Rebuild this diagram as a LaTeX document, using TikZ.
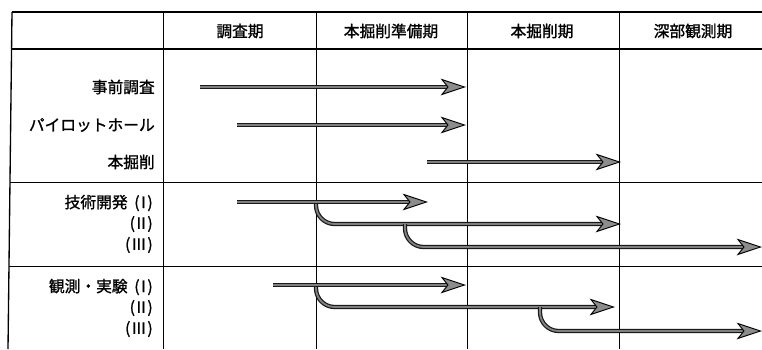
\documentclass[tikz,border=0pt]{standalone}
\usepackage{fontspec}
\newfontfamily\jp[FakeBold=1.2]{Noto Sans CJK JP}
\usetikzlibrary{arrows.meta}
\newcommand{\rn}[1]{(\kern1.2pt #1\kern1.2pt)}
\begin{document}
\begin{tikzpicture}[x=0.75pt,y=-0.75pt,
  grid/.style={draw=black, line width=0.6pt},
  frame/.style={draw=black, line width=1pt},
  lbl/.style={anchor=east, font=\jp\fontsize{11.8pt}{13pt}\selectfont, inner sep=0pt},
  hdr/.style={font=\jp\fontsize{11.8pt}{13pt}\selectfont, inner sep=0pt},
  flow/.style={draw=black!50, line width=1.4pt, rounded corners=14pt,
    preaction={draw=black!90, line width=3.2pt, -, shorten >=14pt},
    -{Stealth[length=19pt, width=12.5pt, inset=5pt, fill=black!45, color=black, line width=0.7pt]}}]
\useasboundingbox (0,0) rectangle (762,349);
% grid
\draw[frame] (12,12) -- (762,12);
\draw[frame] (12,49) -- (762,49);
\draw[grid] (10,182) -- (762,182);
\draw[grid] (9,266) -- (762,266);
\draw[frame] (12,12) -- (8,349);
\foreach \x in {163,316,467,619} \draw[grid] (\x,12) -- (\x,349);
% headers
\node[hdr] (h1) at (240,31) {調査期};
\node[hdr] (h2) at (391,31) {本掘削準備期};
\node[hdr] (h3) at (542,31) {本掘削期};
\node[hdr] (h4) at (693,31) {深部観測期};
% row labels
\node[lbl] (r1) at (155,87) {事前調査};
\node[lbl] (r2) at (155,125) {パイロットホール};
\node[lbl] (r3) at (155,162) {本掘削};
\node[lbl] (t1) at (153,203) {技術開発\hspace{5pt}\rn{I}};
\node[lbl] (t2) at (153,224) {\rn{II}};
\node[lbl] (t3) at (153,245) {\rn{III}};
\node[lbl] (k1) at (153,287) {観測・実験\hspace{5pt}\rn{I}};
\node[lbl] (k2) at (153,308) {\rn{II}};
\node[lbl] (k3) at (153,329) {\rn{III}};
% arrow coordinates
\coordinate (a1s) at (200,87);  \coordinate (a1e) at (466,87);
\coordinate (a2s) at (237,125); \coordinate (a2e) at (466,125);
\coordinate (a3s) at (427,162); \coordinate (a3e) at (621,162);
\coordinate (b1s) at (237,202); \coordinate (b1e) at (428,202);
\coordinate (b2s) at (316,202); \coordinate (b2e) at (621,224);
\coordinate (b3s) at (405,224); \coordinate (b3e) at (762,247);
\coordinate (c1s) at (273,285); \coordinate (c1e) at (466,285);
\coordinate (c2s) at (316,285); \coordinate (c2e) at (615,307);
\coordinate (c3s) at (540,307); \coordinate (c3e) at (762,331);
% arrows
\draw[flow] (a1s) -- (a1e);
\draw[flow] (a2s) -- (a2e);
\draw[flow] (a3s) -- (a3e);
\draw[flow] (b2s) |- (b2e);
\draw[flow] (b3s) |- (b3e);
\draw[flow] (b1s) -- (b1e);
\draw[flow] (c2s) |- (c2e);
\draw[flow] (c3s) |- (c3e);
\draw[flow] (c1s) -- (c1e);
\end{tikzpicture}
\end{document}
